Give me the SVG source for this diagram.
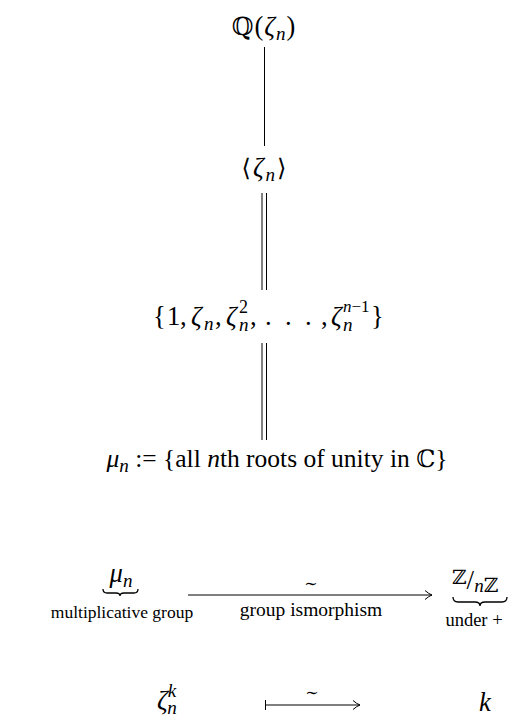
<svg xmlns="http://www.w3.org/2000/svg" width="516" height="720" viewBox="0 0 516 720">
<style>
.t{font-family:"Liberation Serif","DejaVu Serif",serif;fill:#000}
.m{font-size:26.5px}
.sub{font-size:19px;font-style:italic}
.sup{font-size:18px}
.s{font-size:18.5px}
.i{font-style:italic}
.bb{font-family:"DejaVu Serif",serif;font-style:normal}
.ln{stroke:#000;stroke-width:1;fill:none}
.br{stroke:#000;stroke-width:1.3;fill:none}
</style>
<defs>
<marker id="ah" markerWidth="12" markerHeight="12" refX="10" refY="6" orient="auto" markerUnits="userSpaceOnUse">
<path d="M3,1.5 Q7,5 10,6 Q7,7 3,10.5" fill="none" stroke="#000" stroke-width="1"/>
</marker>
</defs>
<g id="n-Q">
<text class="t m" x="264" y="35" text-anchor="middle" letter-spacing="1"><tspan class="bb" font-size="25">ℚ</tspan>(<tspan class="i">ζ</tspan><tspan class="sub" dy="5">n</tspan><tspan dy="-5">)</tspan></text>
</g>
<g id="n-gen">
<text class="t m" x="265" y="176" text-anchor="middle" letter-spacing="2"><tspan class="bb" font-size="24">⟨</tspan><tspan class="i">ζ</tspan><tspan class="sub" dy="5">n</tspan><tspan class="bb" font-size="24" dy="-5">⟩</tspan></text>
</g>
<g id="n-set" class="t m">
<text x="153" y="325">{</text>
<text x="167" y="325">1</text>
<text x="180" y="325">,</text>
<text x="191" y="325" class="i">ζ</text>
<text x="204" y="330" class="sub">n</text>
<text x="215" y="325">,</text>
<text x="226" y="325" class="i">ζ</text>
<text x="239" y="313" class="sup">2</text>
<text x="239" y="331" class="sub">n</text>
<text x="250" y="325">,</text>
<text x="265" y="325">.</text>
<text x="285" y="325">.</text>
<text x="305" y="325">.</text>
<text x="321" y="325">,</text>
<text x="331" y="325" class="i">ζ</text>
<text x="343" y="312" font-size="17"><tspan class="i">n</tspan>−1</text>
<text x="343" y="331" class="sub">n</text>
<text x="371" y="325">}</text>
</g>
<g id="n-mu">
<text class="t" font-size="25.5" x="277" y="467" text-anchor="middle"><tspan class="i">μ</tspan><tspan class="sub" dy="5">n</tspan><tspan dy="-5"> := {all </tspan><tspan class="i">n</tspan>th roots of unity in <tspan class="bb" font-size="24">ℂ</tspan>}</text>
</g>
<g id="n-mun">
<text class="t m" x="121" y="582" text-anchor="middle"><tspan class="i">μ</tspan><tspan class="sub" dy="5">n</tspan></text>
<path class="br" d="M103,589 Q103,593 107,593 L116,593 Q120,593 120,596 Q120,593 124,593 L134,593 Q138,593 138,589"/>
<text class="t" font-size="17.5" x="122" y="618" text-anchor="middle">multiplicative group</text>
</g>
<g id="n-Zn">
<text class="t" x="452" y="589"><tspan class="bb" font-size="20" dy="-5">ℤ</tspan><tspan font-size="27" dy="5">/</tspan><tspan class="sub" font-size="21" dy="3">n</tspan><tspan class="bb" font-size="20">ℤ</tspan></text>
<path class="br" d="M453,597 Q453,602 458,602 L475,602 Q480,602 480,606 Q480,602 485,602 L502,602 Q507,602 507,597"/>
<text class="t s" x="474" y="626" text-anchor="middle">under +</text>
</g>
<g id="n-zk">
<text class="t m" x="157" y="709"><tspan class="i">ζ</tspan><tspan class="sub" dy="-12">k</tspan><tspan class="sub" dx="-9" dy="17">n</tspan></text>
</g>
<g id="n-k">
<text class="t m i" x="485" y="711" text-anchor="middle">k</text>
</g>
<g id="connectors">
<line class="ln" x1="264.5" y1="47" x2="264.5" y2="146"/>
<line class="ln" x1="262" y1="193" x2="262" y2="290"/>
<line class="ln" x1="266.5" y1="193" x2="266.5" y2="290"/>
<line class="ln" x1="262" y1="343" x2="262" y2="440"/>
<line class="ln" x1="266.5" y1="343" x2="266.5" y2="440"/>
<line class="ln" x1="188" y1="595" x2="432" y2="595" marker-end="url(#ah)"/>
<text class="t bb" font-size="16" x="311" y="589" text-anchor="middle">∼</text>
<text class="t" font-size="19.5" x="311" y="616" text-anchor="middle">group ismorphism</text>
<line class="ln" x1="265.5" y1="700" x2="265.5" y2="710"/>
<line class="ln" x1="265.5" y1="705" x2="360" y2="705" marker-end="url(#ah)"/>
<text class="t bb" font-size="16" x="312" y="698" text-anchor="middle">∼</text>
</g>
</svg>
